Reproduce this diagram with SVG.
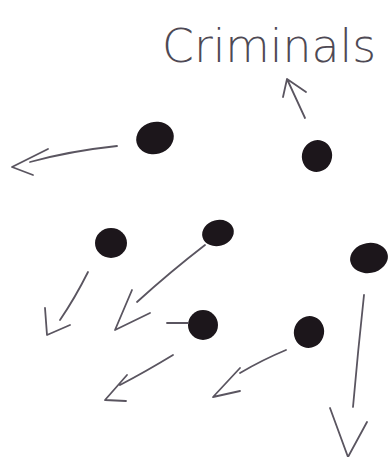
<svg xmlns="http://www.w3.org/2000/svg" width="388" height="457" viewBox="0 0 388 457">
<style>
.dot{fill:#1c161b}
.pen{fill:none;stroke:#5a5560;stroke-width:1.8;stroke-linecap:round;stroke-linejoin:round}
.label{font-family:"DejaVu Sans","Liberation Sans",sans-serif;font-weight:200;font-size:46px;fill:#4e4954}
</style>
<rect width="388" height="457" fill="#ffffff"/>
<g id="label-criminals"><text class="label" x="162" y="62" textLength="214" lengthAdjust="spacingAndGlyphs">Criminals</text></g>
<g id="dot1"><ellipse class="dot" cx="155" cy="138" rx="19" ry="16" transform="rotate(-15 155 138)"/></g>
<g id="dot2"><ellipse class="dot" cx="317" cy="156" rx="15" ry="16" transform="rotate(20 317 156)"/></g>
<g id="dot3"><ellipse class="dot" cx="111" cy="243" rx="16" ry="15"/></g>
<g id="dot4"><ellipse class="dot" cx="218" cy="233" rx="16" ry="13" transform="rotate(-15 218 233)"/></g>
<g id="dot5"><ellipse class="dot" cx="369" cy="258" rx="19" ry="15" transform="rotate(-10 369 258)"/></g>
<g id="dot6"><ellipse class="dot" cx="203" cy="325" rx="15" ry="15"/></g>
<g id="dot7"><ellipse class="dot" cx="309" cy="332" rx="15" ry="16" transform="rotate(20 309 332)"/></g>
<g id="connectors">
<path class="pen" d="M305 118 L287 79 M283 97 L287 79 L306 92"/>
<path class="pen" d="M117 146 Q70 151 30 162 M48 149 L12 167 L33 175"/>
<path class="pen" d="M88 272 Q75 298 60 320 M45 308 L47 335 L70 325"/>
<path class="pen" d="M205 245 Q170 272 137 302 M132 290 L115 330 L150 313"/>
<path class="pen" d="M167 323 L188 323"/>
<path class="pen" d="M173 355 Q145 372 120 385 M127 375 L105 400 L126 401"/>
<path class="pen" d="M286 350 Q262 360 240 373 M240 368 L213 397 L240 391"/>
<path class="pen" d="M364 295 Q358 350 353 407 M330 408 L348 457 L367 422"/>
</g>
</svg>
